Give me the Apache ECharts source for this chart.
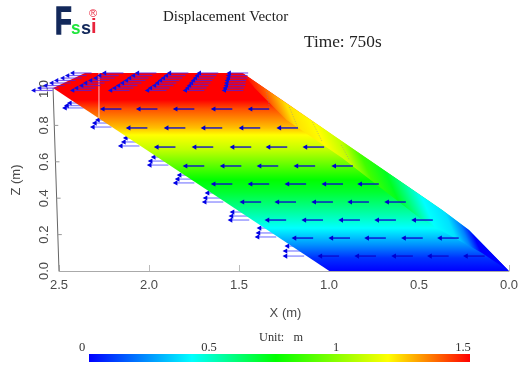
<!DOCTYPE html>
<html>
<head>
<meta charset="utf-8">
<style>html,body{margin:0;padding:0;background:#fff}#c{width:521px;height:370px}</style>
<script src="https://cdn.jsdelivr.net/npm/echarts@6/dist/echarts.min.js"></script>
</head>
<body>
<div id="c"></div>
<script>
// ---- data (X in m, Z in m) ----
const xTicks = [0, 0.5, 1, 1.5, 2, 2.5];
const zTicks = [0, 0.2, 0.4, 0.6, 0.8, 1];
const zAxisLine = [[2.5, 0], [2.533, 1.005]];
const zTickMarks = [0.2, 0.4, 0.6, 0.8];

const surfaceOutline = [[2.533, 1.005], [2.356, 1.088], [1.480, 1.088], [0.371, 0.335], [0.222, 0.225], [0, 0], [0.998, 0]];
const sideFacet = [[1.480, 1.088], [0.371, 0.335], [0.222, 0.225], [0, 0], [0.150, 0.099], [0.482, 0.280], [0.926, 0.621], [1.236, 0.830], [1.413, 1.005]];
const surfaceZStops = [1.088, 0.940, 0.890, 0.786, 0.747, 0.665, 0.582, 0.500, 0.434, 0.324, 0.236, 0.143, 0.071, 0];
const surfaceColors = ['#ff0000', '#ff0000', '#ff5000', '#ffc000', '#ffff00', '#c0ff00', '#60ff00', '#00ff00', '#00ff30', '#00ffa0', '#00ffff', '#0090ff', '#0030ff', '#0000ff'];
const facetGradient = [[1.480, 1.088], [0.593, 1.467]];
const facetOffsets = [0, 0.07, 0.157, 0.27, 0.363, 0.438, 0.53, 0.607, 0.663, 0.75, 0.805, 0.85, 1];
const facetColors = ['#ff0000', '#ff5000', '#ffe000', '#ffff00', '#c0ff00', '#40ff00', '#00ff20', '#00ffa0', '#00ffff', '#00e0ff', '#0080ff', '#0000ff', '#0000ff'];
const gridSeams = [
  [[1.347, 0.984], [1.330, 0.896]],
  [[1.220, 0.901], [1.175, 0.791]],
  [[1.092, 0.819], [1.037, 0.709]],
  [[0.931, 0.692], [0.887, 0.610]]
];
const whiteLine = [[2.278, 1.093], [2.278, 0.841]];

const arrowLength = 0.12;
const rowZ = [0.890, 0.786, 0.681, 0.577, 0.478, 0.379, 0.280, 0.181, 0.082];
const rowHeads = [
  [2.273, 2.073, 1.868, 1.657, 1.452],
  [2.129, 1.918, 1.713, 1.502, 1.292],
  [1.973, 1.763, 1.552, 1.352, 1.147],
  [1.813, 1.607, 1.402, 1.197, 0.987],
  [1.657, 1.452, 1.247, 1.042, 0.843],
  [1.497, 1.303, 1.098, 0.898, 0.693],
  [1.358, 1.153, 0.948, 0.748, 0.543],
  [1.208, 1.003, 0.804, 0.599, 0.399],
  [1.064, 0.859, 0.654, 0.455, 0.255]
];
const topZ = [1.088, 1.074, 1.060, 1.047, 1.033, 1.019, 1.005, 0.992];
const topHeads = [
  [2.439, 2.262, 2.079, 1.901, 1.735, 1.569],
  [2.467, 2.289, 2.101, 1.918, 1.746, 1.572],
  [2.494, 2.311, 2.123, 1.935, 1.757, 1.574],
  [2.528, 2.339, 2.140, 1.951, 1.768, 1.580],
  [2.555, 2.367, 2.162, 1.968, 1.779, 1.583],
  [2.589, 2.389, 2.184, 1.984, 1.790, 1.585],
  [2.622, 2.417, 2.206, 2.007, 1.801, 1.591],
  [2.655, 2.439, 2.228, 2.023, 1.813, 1.596]
];
const edgeClusterHeads = [
  [[2.483, 0.896], [2.472, 0.909], [2.456, 0.923]],
  [[2.328, 0.791], [2.317, 0.813], [2.300, 0.830]],
  [[2.173, 0.687], [2.156, 0.709], [2.145, 0.731]],
  [[2.012, 0.582], [2.007, 0.604], [1.990, 0.626]],
  [[1.868, 0.484], [1.857, 0.505], [1.846, 0.527]],
  [[1.707, 0.379], [1.702, 0.401], [1.691, 0.429]],
  [[1.563, 0.280], [1.558, 0.302], [1.552, 0.324]],
  [[1.413, 0.187], [1.408, 0.209], [1.402, 0.236]],
  [[1.258, 0.082], [1.258, 0.110], [1.247, 0.137]]
];
const colorBarMax = 1.5;
const colorBarOffsets = [0, 0.27, 0.49, 0.785, 1];
const colorBarColors = ['#0000ff', '#00ffff', '#00ff00', '#ffff00', '#ff0000'];

// ---- drawing helpers ----
const frontArrows = [];
rowZ.forEach((z, i) => rowHeads[i].forEach(x => frontArrows.push([x, z])));
const topArrows = [];
topZ.forEach((z, i) => topHeads[i].forEach(x => topArrows.push([x, z])));
const clusterArrows = edgeClusterHeads.flat();

function arrowSeries(data, z, tail, width, head, headColor) {
  return {
    type: 'custom', coordinateSystem: 'cartesian2d', xAxisIndex: 0, yAxisIndex: 0, z, silent: true,
    data, encode: { x: 0, y: 1 },
    renderItem(params, api) {
      const x = api.value(0), v = api.value(1);
      const a = api.coord([x, v]), b = api.coord([x - arrowLength, v]);
      return { type: 'group', children: [
        { type: 'line', shape: { x1: a[0] + 2, y1: a[1], x2: b[0], y2: b[1] }, style: { stroke: tail, lineWidth: width } },
        { type: 'polygon', shape: { points: [[a[0], a[1]], [a[0] + head * 1.8, a[1] - head], [a[0] + head * 1.8, a[1] + head]] }, style: { fill: headColor } }
      ] };
    }
  };
}
function shapeSeries(verts, z, fill) {
  return {
    type: 'custom', coordinateSystem: 'cartesian2d', xAxisIndex: 0, yAxisIndex: 0, z, silent: true,
    data: verts, encode: { x: 0, y: 1 },
    renderItem(params, api) {
      if (params.dataIndex !== 0) return;
      return { type: 'polygon', shape: { points: verts.map(p => api.coord(p)) }, style: { fill: fill(api), stroke: null } };
    }
  };
}
function segmentsSeries(segs, z, color, width, dash) {
  const rows = segs.map(s => [s[0][0], s[0][1], s[1][0], s[1][1]]);
  return {
    type: 'custom', coordinateSystem: 'cartesian2d', xAxisIndex: 0, yAxisIndex: 0, z, silent: true,
    data: rows, encode: { x: [0, 2], y: [1, 3] },
    renderItem(params, api) {
      const a = api.coord([api.value(0), api.value(1)]), b = api.coord([api.value(2), api.value(3)]);
      return { type: 'line', shape: { x1: a[0], y1: a[1], x2: b[0], y2: b[1] }, style: { stroke: color, lineWidth: width, lineDash: dash || null } };
    }
  };
}
const labelColor = '#4a4a4a';
const serif = '"Liberation Serif", serif';
const sans = '"Liberation Sans", Arial, sans-serif';

const chart = echarts.init(document.getElementById('c'), null, { renderer: 'canvas' });
chart.setOption({
  animation: false,
  backgroundColor: '#ffffff',
  title: [
    { text: 'Displacement Vector', left: 163, top: 10, padding: 0, textStyle: { fontFamily: serif, fontSize: 15, fontWeight: 'normal', color: '#222' } },
    { text: 'Time: 750s', left: 304, top: 34, padding: 0, textStyle: { fontFamily: serif, fontSize: 17.3, fontWeight: 'normal', color: '#222' } },
    { text: 'Unit:   m', left: 259, top: 332, padding: 0, textStyle: { fontFamily: serif, fontSize: 12.3, fontWeight: 'normal', color: '#333' } }
  ],
  graphic: [
    { type: 'text', x: 55, y: 5, scaleX: 0.72, style: { text: 'F', font: 'bold 38px "Liberation Sans"', fill: '#12285a', stroke: '#12285a', lineWidth: 1.5 } },
    { type: 'text', x: 71, y: 19, scaleX: 0.9, style: { text: 's', font: 'bold 19px "Liberation Sans"', fill: '#1fe53c' } },
    { type: 'text', x: 81, y: 19, scaleX: 0.95, style: { text: 's', font: 'bold 19px "Liberation Sans"', fill: '#12285a' } },
    { type: 'text', x: 91, y: 17, style: { text: 'i', font: 'bold 20px "Liberation Sans"', fill: '#e8243c' } },
    { type: 'text', x: 89, y: 8, style: { text: '®', font: '11px "Liberation Sans"', fill: '#e8243c' } }
  ],
  grid: [
    { left: 59, right: 11, top: 89, bottom: 99 },
    { left: 89, width: 381, top: 354, height: 8 }
  ],
  xAxis: [
    {
      type: 'value', inverse: true, min: 0, max: 2.5, interval: 0.5, gridIndex: 0,
      name: 'X (m)', nameLocation: 'middle', nameGap: 36,
      nameTextStyle: { fontFamily: sans, fontSize: 13, color: labelColor, padding: [0, 0, 0, 3] },
      axisLine: { show: true, lineStyle: { color: '#aaaaaa', width: 1 } },
      axisTick: { show: true, inside: true, length: 6, lineStyle: { color: '#bbbbbb' } },
      axisLabel: { margin: 8, fontFamily: sans, fontSize: 13, color: labelColor, formatter: v => v.toFixed(1), showMinLabel: true, showMaxLabel: true },
      splitLine: { show: false }
    },
    {
      type: 'value', min: 0, max: colorBarMax, interval: 0.5, gridIndex: 1, position: 'top',
      axisLine: { show: false }, axisTick: { show: false }, splitLine: { show: false },
      axisLabel: { margin: 0, padding: [0, 14, 0, 0], fontFamily: serif, fontSize: 12.5, color: '#333', showMinLabel: true, showMaxLabel: true }
    }
  ],
  yAxis: [
    {
      type: 'value', min: 0, max: 1, interval: 0.2, gridIndex: 0,
      name: 'Z (m)', nameLocation: 'middle', nameGap: 36, nameRotate: 90,
      nameTextStyle: { fontFamily: sans, fontSize: 13, color: labelColor },
      axisLine: { show: false }, axisTick: { show: false }, splitLine: { show: false },
      axisLabel: { rotate: 90, margin: 8, fontFamily: sans, fontSize: 13, color: labelColor, formatter: v => v.toFixed(1), showMinLabel: true, showMaxLabel: true }
    },
    {
      type: 'category', gridIndex: 1, data: ['scale'],
      axisLine: { show: false }, axisTick: { show: false }, axisLabel: { show: false }, splitLine: { show: false }
    }
  ],
  series: [
    segmentsSeries([zAxisLine], 1, '#666666', 1),
    {
      type: 'custom', coordinateSystem: 'cartesian2d', xAxisIndex: 0, yAxisIndex: 0, z: 1, silent: true,
      data: zTickMarks, encode: { y: 0 },
      renderItem(params, api) {
        const v = api.value(0);
        const a = api.coord([2.5 + 0.033 * v / 1.005, v]);
        return { type: 'line', shape: { x1: a[0], y1: a[1], x2: a[0] + 4, y2: a[1] }, style: { stroke: '#999', lineWidth: 1 } };
      }
    },
    arrowSeries(clusterArrows, 2, 'rgba(60,60,255,0.6)', 1.3, 2.6, '#0000e6'),
    shapeSeries(surfaceOutline, 3, api => {
      const a = api.coord([0, surfaceZStops[0]]), b = api.coord([0, surfaceZStops[surfaceZStops.length - 1]]);
      const span = surfaceZStops[0] - surfaceZStops[surfaceZStops.length - 1];
      return { type: 'linear', global: true, x: 0, y: a[1], x2: 0, y2: b[1],
        colorStops: surfaceZStops.map((z, i) => ({ offset: (surfaceZStops[0] - z) / span, color: surfaceColors[i] })) };
    }),
    shapeSeries(sideFacet, 4, api => {
      const a = api.coord(facetGradient[0]), b = api.coord(facetGradient[1]);
      return { type: 'linear', global: true, x: a[0], y: a[1], x2: b[0], y2: b[1],
        colorStops: facetOffsets.map((o, i) => ({ offset: o, color: facetColors[i] })) };
    }),
    segmentsSeries(gridSeams, 5, 'rgba(120,120,190,0.45)', 1, [1, 1.5]),
    segmentsSeries([whiteLine], 6, 'rgba(255,235,240,0.8)', 1),
    arrowSeries(topArrows, 7, 'rgba(70,30,235,0.7)', 1.2, 2.4, '#0a0ae6'),
    arrowSeries(frontArrows, 8, 'rgba(10,10,205,0.9)', 1.5, 2.6, '#0000d0'),
    {
      type: 'bar', xAxisIndex: 1, yAxisIndex: 1, barWidth: 8, silent: true,
      data: [colorBarMax],
      itemStyle: { color: { type: 'linear', x: 0, y: 0, x2: 1, y2: 0,
        colorStops: colorBarOffsets.map((o, i) => ({ offset: o, color: colorBarColors[i] })) } }
    }
  ]
});
</script>
</body>
</html>
